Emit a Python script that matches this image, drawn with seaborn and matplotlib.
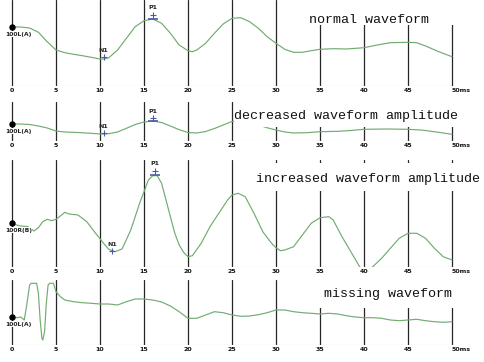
import matplotlib
matplotlib.use("Agg")
import matplotlib.pyplot as plt
import seaborn as sns
import pandas as pd
from matplotlib.patches import Rectangle

sns.set_style("white")

# ---------------- data ----------------
tick_values = [0, 5, 10, 15, 20, 25, 30, 35, 40, 45, 50]
tick_labels = ["0", "5", "10", "15", "20", "25", "30", "35", "40", "45", "50ms"]

panel_titles = ["normal waveform", "decreased waveform amplitude",
                "increased waveform amplitude", "missing waveform"]
channel_labels = ["100L(A)", "100L(A)", "100R(B)", "100L(A)"]

normal_ms = [0, 1, 2, 3, 4, 5, 6, 7, 8, 9, 10, 10.5, 11, 12, 13, 14, 15, 16, 17, 18, 19, 20,
             20.5, 21, 22, 23, 24, 25, 26, 27, 28, 29, 30, 31, 32, 33, 34, 35,
             36.5, 38, 40, 41.5, 43, 45, 46, 47, 48.5, 50]
normal_amp = [0, 0, -1, -5.3, -14.7, -23, -25.7, -27.3, -28.7, -30.3, -32, -32, -30.7, -23,
              -11.3, 0.3, 6.3, 8, 3.7, -6.3, -18, -23.7, -24.7, -23, -16.3, -6.3, 3, 8.7,
              9.3, 5.3, -1.3, -9.7, -16.3, -22.3, -25.3, -25.3, -23.7, -22.3,
              -21.7, -22, -20.7, -18, -15.7, -15.3, -15.7, -19, -24.7, -29.7]

decreased_ms = [0, 1, 2, 3, 4, 5, 6, 7.5, 9, 10, 10.5, 11, 12, 13, 14, 15, 16, 17, 18, 19,
                20, 21, 22, 23, 24, 25, 26, 27, 28, 29, 30, 31, 32, 33.5, 35, 37, 38.5, 40,
                42.5, 45, 46.5, 48, 50]
decreased_amp = [0, 0, -0.5, -2, -4, -7, -8, -8.5, -9.3, -10, -10, -9.7, -8, -4.3, -0.5, 2,
                 3, 1.5, -2, -5.7, -8.5, -9, -7.5, -4.5, -1, 2.5, 3.5, 2, -1, -3.8, -6, -8,
                 -9, -8.7, -7.7, -7.3, -6.5, -5.3, -5, -5.3, -6, -7.7, -10.3]

increased_ms = [0, 0.5, 1, 1.8, 2.5, 3, 3.5, 4, 4.5, 5, 5.5, 6, 6.5, 7.5, 8.5, 9.5, 10.5, 11,
                11.7, 12.5, 13.5, 14.5, 15, 15.5, 16, 16.5, 17, 17.5, 18, 18.5, 19, 19.5, 20,
                20.5, 21.5, 22.5, 23.5, 24.5, 25, 25.7, 26.5, 27.5, 28.5, 29.5, 30, 30.5, 31,
                32, 33, 34, 35, 36, 36.5, 37.5, 38.5, 39.5, 40.2, 41, 42, 43, 44, 45, 46, 47,
                48, 49, 50]
increased_amp = [0, -2, -3, -3.5, -8, -4.7, 1.3, 3.7, 2.3, 3.7, 7, 10.7, 9, 8, 1.3, -10.3,
                 -21.3, -26.3, -28.7, -26, -7, 19.7, 31.3, 43, 47.3, 47.3, 39.7, 23, 6.3,
                 -10.3, -22, -29.3, -33.7, -32.7, -20.3, -3.7, 9.7, 23, 28, 29.7, 26.3, 9.7,
                 -8.7, -20.3, -24.7, -27.7, -27, -23.7, -12, -0.3, 5.3, 6.3, 3, -13.7, -28.7,
                 -43.7, -50, -43.7, -35.3, -25.3, -15.3, -10.3, -10.3, -15.3, -25.3, -33.7, -37]

missing_ms = [0, 0.5, 1, 1.4, 1.7, 2, 2.2, 2.5, 2.8, 3, 3.2, 3.4, 3.5, 3.7, 3.9, 4.1, 4.3, 4.7,
              5, 5.5, 6, 7, 8, 9, 10, 11, 12, 13, 14, 15, 16, 17, 18, 19, 20, 21, 22, 23, 24,
              25, 26, 27, 28, 29, 30, 31, 32, 33, 34, 35, 36, 37, 38, 39, 40, 41, 42, 43, 44,
              45, 46, 47, 48, 49, 50]
missing_amp = [0, -0.7, 0, -3, 13.7, 32, 33.7, 33.7, 33.7, 23.7, -3, -21.3, -23, -14.7, 13.7,
               32, 33.7, 33.7, 25.3, 20.3, 17, 15.3, 14.3, 13.7, 13, 13, 12, 15.3, 18, 18, 17,
               15, 11, 5.3, -1.3, -1.3, 2, 5.3, 4.3, 2, 0.7, 1, 2.3, 4.3, 7, 7, 5.3, 4.3, 3.7,
               3, 3.7, 3, 1.3, 0, -0.7, -0.7, -1.3, -3, -3.7, -3, -2.3, -3.7, -4.7, -5.3, -4.7]

# peak markers (panels 1-3)
n1_ms = [10.4, 10.4, 11.4]
n1_amp = [-30.3, -8.7, -28.0]
p1_ms = [16.0, 16.0, 16.2]
p1_amp = [12.0, 5.7, 52.3]
p1_curve = [7.7, 3.0, 48.0]

series_ms = [normal_ms, decreased_ms, increased_ms, missing_ms]
series_amp = [normal_amp, decreased_amp, increased_amp, missing_amp]

# ---------------- layout ----------------
W, H = 484, 362
PX_PER_MS = 8.8
X0_PX = 12
panel_top = [0, 102, 160, 280]
panel_bot = [86, 141, 267, 345]
panel_zero = [27, 124, 223, 317]   # pixel row of the 0 level

# white title boxes: (x0, y0, x1, y1) px, title centre x, baseline y
boxes = [(285, 0, 484, 25), (234, 99, 484, 127), (250, 163, 484, 191), (298, 276, 484, 308)]
title_pos = [(368.7, 22.7), (346.5, 119.0), (368.0, 181.7), (388.0, 297.3)]

green = "#72ab72"
blue = "#4a5aa8"

fig = plt.figure(figsize=(W / 100, H / 100), dpi=100)
xlim = (-X0_PX / PX_PER_MS, (W - X0_PX) / PX_PER_MS)

for i in range(4):
    top, bot, zero = panel_top[i], panel_bot[i], panel_zero[i]
    ax = fig.add_axes([0, 1 - bot / H, 1, (bot - top) / H])
    lo, hi = zero - bot, zero - top
    ax.set_xlim(*xlim)
    ax.set_ylim(lo, hi)
    for t in tick_values:
        ax.axvline(t, color="#262626", lw=0.9, zorder=1)
    ax.hlines(lo, tick_values[0], tick_values[-1], color="#c4c4c4", lw=0.8, zorder=1)
    df = pd.DataFrame({"ms": series_ms[i], "amp": series_amp[i]})
    sns.lineplot(data=df, x="ms", y="amp", ax=ax, color=green, lw=0.85, zorder=2,
                 sort=False, estimator=None)
    ax.plot([0], [0], "o", color="black", ms=3.6, zorder=4, clip_on=False)
    ax.annotate(channel_labels[i], xy=(0, 0), xytext=(4.6, -5.2), textcoords="offset points",
                ha="center", va="center", fontsize=4.3, fontweight="bold", color="#222222",
                zorder=5, bbox=dict(fc="white", ec="none", pad=0.4))
    if i < 3:
        ax.plot([n1_ms[i]], [n1_amp[i]], "+", color=blue, ms=4, mew=0.8, zorder=4)
        ax.annotate("N1", xy=(n1_ms[i], n1_amp[i]), xytext=(0, 4.8), textcoords="offset points",
                    ha="center", va="center", fontsize=4.5, fontweight="bold", color="#222222")
        ax.plot([p1_ms[i]], [p1_amp[i]], "+", color=blue, ms=4, mew=0.8, zorder=4)
        ax.plot([p1_ms[i]], [p1_curve[i]], "_", color=blue, ms=7, mew=1.2, zorder=4)
        ax.annotate("P1", xy=(p1_ms[i], p1_amp[i]), xytext=(0, 5.2), textcoords="offset points",
                    ha="center", va="center", fontsize=4.5, fontweight="bold", color="#222222")
    # tick labels under each grid line
    for t, lab in zip(tick_values, tick_labels):
        ax.annotate(lab, xy=(t, 0), xycoords=("data", "axes fraction"),
                    xytext=(0, -1.4), textcoords="offset points",
                    ha="left" if lab.endswith("ms") else "center", va="top",
                    fontsize=4.5, fontweight="bold", color="#111111",
                    annotation_clip=False, zorder=6)
    ax.set_xticks([])
    ax.set_yticks([])
    ax.set_xlabel("")
    ax.set_ylabel("")
    for s in ax.spines.values():
        s.set_visible(False)
    ax.patch.set_alpha(0)

for i in range(4):
    x0, y0, x1, y1 = boxes[i]
    fig.add_artist(Rectangle((x0 / W, 1 - y1 / H), (x1 - x0) / W, (y1 - y0) / H,
                             transform=fig.transFigure, fc="white", ec="none", zorder=10))
    cx, by = title_pos[i]
    fig.text(cx / W, 1 - by / H, panel_titles[i], ha="center", va="baseline",
             fontfamily="Liberation Mono", fontsize=9.6, color="#111111", zorder=11)

fig.savefig("out.png", dpi=100)
